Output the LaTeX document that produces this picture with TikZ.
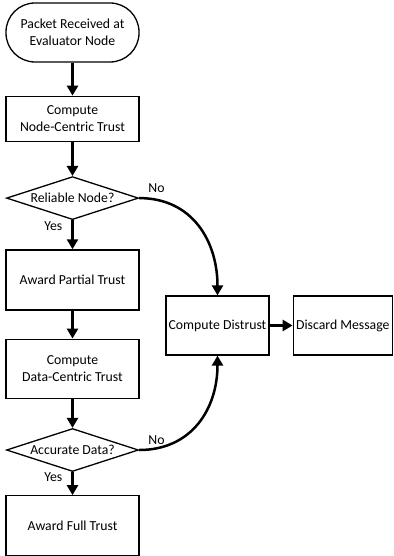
\documentclass[tikz,border=0pt]{standalone}
\usepackage{fontspec}
\setmainfont{Carlito}
\usepackage{tikz}
\usetikzlibrary{shapes.geometric, arrows.meta, positioning}

\begin{document}
\begin{tikzpicture}[
    x=1bp, y=1bp,
    font=\fontsize{13.8}{17}\selectfont,
    terminal/.style={rectangle, rounded corners=29bp, draw=black, line width=1.3bp, minimum width=133bp, minimum height=59bp, inner sep=0pt, align=center},
    process/.style={rectangle, draw=black, line width=1.3bp, minimum width=133bp, minimum height=59bp, inner sep=0pt, align=center},
    decision/.style={diamond, aspect=3, draw=black, line width=1.3bp, minimum width=132bp, minimum height=43bp, inner sep=0pt, align=center},
    arrow/.style={-{Triangle[length=10bp, width=11bp]}, line width=2.5bp, black},
    labelstyle/.style={inner sep=0pt}
]
\useasboundingbox (0,0) rectangle (393,-556);

% === Left: main trust pipeline ===
\node[terminal] (start) at (72.5,-32.5) {Packet Received at\\Evaluator Node};
\node[process, minimum height=45bp, below=33bp of start] (nodetrust) {Compute\\Node-Centric Trust};
\node[decision, below=34bp of nodetrust] (reliable) {Reliable Node?};
\node[process, minimum height=60bp, below=29bp of reliable] (partial) {Award Partial Trust};
\node[process, below=28bp of partial] (datatrust) {Compute\\Data-Centric Trust};
\node[decision, below=29bp of datatrust] (accurate) {Accurate Data?};
\node[process, minimum height=60bp, below=23bp of accurate] (full) {Award Full Trust};

% === Right: distrust branch ===
\node[process, minimum width=103bp] (distrust) at (217.5,-325.5) {Compute Distrust};
\node[process, minimum width=99bp, right=23bp of distrust] (discard) {Discard Message};

% === Arrows ===
\draw[arrow] (start) -- (nodetrust);
\draw[arrow] (nodetrust) -- (reliable);
\draw[arrow] (reliable) -- node[labelstyle, pos=0.2, left=9bp] {Yes} (partial);
\draw[arrow] (partial) -- (datatrust);
\draw[arrow] (datatrust) -- (accurate);
\draw[arrow] (accurate) -- node[labelstyle, pos=0.2, left=9bp] {Yes} (full);
\draw[arrow] (distrust) -- (discard);

% No branches (curved)
\draw[arrow] (reliable.east) to[out=0, in=90, looseness=1.1] node[labelstyle, at start, anchor=base west, xshift=8bp, yshift=6bp] {No} (distrust.north);
\draw[arrow] (accurate.east) to[out=0, in=-90, looseness=1.1] node[labelstyle, at start, anchor=base west, xshift=8bp, yshift=6bp] {No} (distrust.south);

\end{tikzpicture}
\end{document}
